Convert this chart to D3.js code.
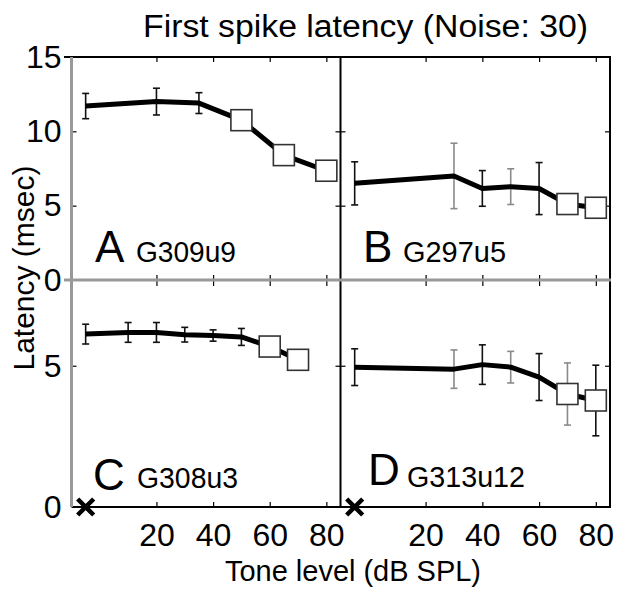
<!DOCTYPE html>
<html><head><meta charset="utf-8">
<script src="https://cdn.jsdelivr.net/npm/d3@7"></script>
<style>
body{margin:0;background:#fff}
svg{display:block}
text{font-family:"Liberation Sans",Arial,Helvetica,sans-serif;fill:#000}
</style>
</head><body>
<svg id="chart" width="628" height="593"></svg>
<script>
// ---------- data ----------
const titleText = "First spike latency (Noise: 30)";
const xLabelText = "Tone level (dB SPL)";
const yLabelText = "Latency (msec)";
const xTickValues = [20, 40, 60, 80];
const yTickValuesTop = [0, 5, 10, 15];
const yTickValuesBottom = [0, 5];
const xDomain = [-10, 85];
const yDomainTop = [0, 15];
const yDomainBottom = [0, 8];

// Panel A  (G309u9)
const levelsA  = [-5, 20, 35, 50, 65, 80];
const latencyA = [11.7, 12.0, 11.9, 10.75, 8.4, 7.35];
const errorA   = [0.85, 0.9, 0.7, 0, 0, 0];
const greyErrA = [0, 0, 0, 0, 0, 0];
const squareA  = [0, 0, 0, 1, 1, 1];

// Panel B  (G297u5)
const levelsB  = [-5, 30, 40, 50, 60, 70, 80];
const latencyB = [6.5, 7.0, 6.16, 6.28, 6.15, 5.11, 4.86];
const errorB   = [1.45, 2.2, 1.2, 1.2, 1.75, 0, 0];
const greyErrB = [0, 1, 0, 1, 0, 0, 0];
const squareB  = [0, 0, 0, 0, 0, 1, 1];

// Panel C  (G308u3)
const levelsC  = [-5, 10, 20, 30, 40, 50, 60, 70];
const latencyC = [6.12, 6.18, 6.18, 6.1, 6.07, 6.02, 5.68, 5.21];
const errorC   = [0.35, 0.35, 0.35, 0.26, 0.2, 0.3, 0, 0];
const greyErrC = [0, 0, 0, 0, 0, 0, 0, 0];
const squareC  = [0, 0, 0, 0, 0, 0, 1, 1];

// Panel D  (G313u12)
const levelsD  = [-5, 30, 40, 50, 60, 70, 80];
const latencyD = [4.95, 4.88, 5.04, 4.95, 4.6, 4.0, 3.77];
const errorD   = [0.65, 0.68, 0.7, 0.56, 0.83, 1.1, 1.25];
const greyErrD = [0, 1, 0, 1, 0, 1, 0];
const squareD  = [0, 0, 0, 0, 0, 1, 1];

// "no response" crosses (level, latency)
const crossLevels = [-5];

// ---------- layout ----------
const svg = d3.select("#chart");
const FONT = '"Liberation Sans",Arial,Helvetica,sans-serif';
const L = 71.5, MID = 340.5, R = 610, TOP = 57, MIDY = 280, BOT = 507;

const panels = [
  {letter:"A", unit:"G309u9", levels:levelsA, lat:latencyA, err:errorA, grey:greyErrA, sq:squareA,
   left:L, right:MID, top:TOP, bottom:MIDY, yDomain:yDomainTop, yTicks:yTickValuesTop, leftCol:true, bottomRow:false,
   letterPos:[95,262], unitPos:[136,262,100]},
  {letter:"B", unit:"G297u5", levels:levelsB, lat:latencyB, err:errorB, grey:greyErrB, sq:squareB,
   left:MID, right:R, top:TOP, bottom:MIDY, yDomain:yDomainTop, yTicks:yTickValuesTop, leftCol:false, bottomRow:false,
   letterPos:[363,262], unitPos:[403,262,103]},
  {letter:"C", unit:"G308u3", levels:levelsC, lat:latencyC, err:errorC, grey:greyErrC, sq:squareC,
   left:L, right:MID, top:MIDY+1, bottom:BOT, yDomain:yDomainBottom, yTicks:yTickValuesBottom, leftCol:true, bottomRow:true,
   letterPos:[93,490], unitPos:[137,488,101]},
  {letter:"D", unit:"G313u12", levels:levelsD, lat:latencyD, err:errorD, grey:greyErrD, sq:squareD,
   left:MID, right:R, top:MIDY+1, bottom:BOT, yDomain:yDomainBottom, yTicks:yTickValuesBottom, leftCol:false, bottomRow:true,
   letterPos:[368,485], unitPos:[407,487,118]}
];

function styleAxis(g, size) {
  g.select(".domain").remove();
  g.attr("font-family", FONT).attr("font-size", size);
  g.selectAll(".tick line").attr("stroke", "#000").attr("stroke-width", 1.2);
  g.selectAll(".tick text").attr("fill", "#000");
}

panels.forEach(p => {
  const x = d3.scaleLinear().domain(xDomain).range([p.left, p.right]);
  const y = d3.scaleLinear().domain(p.yDomain).range([p.bottom, p.top]);
  const g = svg.append("g");

  // inward ticks on all four sides
  g.append("g").attr("transform", `translate(0,${p.top})`)
    .call(d3.axisBottom(x).tickValues(xTickValues).tickSize(5).tickFormat(""))
    .call(s => styleAxis(s, 10));
  g.append("g").attr("transform", `translate(0,${p.bottom})`)
    .call(d3.axisTop(x).tickValues(xTickValues).tickSize(5).tickFormat(""))
    .call(s => styleAxis(s, 10));
  g.append("g").attr("transform", `translate(${p.left},0)`)
    .call(d3.axisRight(y).tickValues([5, 10].filter(v => v < p.yDomain[1])).tickSize(5).tickFormat(""))
    .call(s => styleAxis(s, 10));
  g.append("g").attr("transform", `translate(${p.right},0)`)
    .call(d3.axisLeft(y).tickValues([5, 10].filter(v => v < p.yDomain[1])).tickSize(5).tickFormat(""))
    .call(s => styleAxis(s, 10));

  // tick labels
  if (p.leftCol) {
    g.append("g").attr("transform", `translate(${p.left},0)`)
      .call(d3.axisLeft(y).tickValues(p.yTicks).tickSize(0).tickPadding(10).tickFormat(d3.format("d")))
      .call(s => styleAxis(s, 32));
  }
  if (p.bottomRow) {
    g.append("g").attr("transform", `translate(0,${p.bottom})`)
      .call(d3.axisBottom(x).tickValues(xTickValues).tickSize(0).tickPadding(16).tickFormat(d3.format("d")))
      .call(s => styleAxis(s, 32));
  }

  const pts = p.levels.map((v, i) => ({x: v, y: p.lat[i], e: p.err[i], grey: p.grey[i], sq: p.sq[i]}));

  // error bars
  const eb = g.append("g").selectAll("g").data(pts.filter(d => d.e > 0)).join("g")
    .attr("stroke", d => d.grey ? "#8a8a8a" : "#111").attr("stroke-width", 1.6);
  eb.append("line").attr("x1", d => x(d.x)).attr("x2", d => x(d.x))
    .attr("y1", d => y(d.y - d.e)).attr("y2", d => y(d.y + d.e));
  eb.append("line").attr("x1", d => x(d.x) - 3.5).attr("x2", d => x(d.x) + 3.5)
    .attr("y1", d => y(d.y - d.e)).attr("y2", d => y(d.y - d.e));
  eb.append("line").attr("x1", d => x(d.x) - 3.5).attr("x2", d => x(d.x) + 3.5)
    .attr("y1", d => y(d.y + d.e)).attr("y2", d => y(d.y + d.e));

  // main line
  g.append("path").datum(pts)
    .attr("d", d3.line().x(d => x(d.x)).y(d => y(d.y)))
    .attr("fill", "none").attr("stroke", "#000").attr("stroke-width", 5)
    .attr("stroke-linejoin", "round");

  // open squares
  const S = 21;
  g.append("g").selectAll("rect").data(pts.filter(d => d.sq)).join("rect")
    .attr("x", d => x(d.x) - S / 2).attr("y", d => y(d.y) - S / 2)
    .attr("width", S).attr("height", S)
    .attr("fill", "#fff").attr("stroke", "#333").attr("stroke-width", 1.6);

  // crosses on the zero line (bottom row)
  if (p.bottomRow) {
    g.append("g").selectAll("path").data(crossLevels).join("path")
      .attr("transform", d => `translate(${x(d)},${y(0)})`)
      .attr("d", "M-8,-8L8,8M-8,8L8,-8")
      .attr("stroke", "#000").attr("stroke-width", 4.5).attr("fill", "none");
  }

  // panel letter and unit name
  g.append("text").attr("x", p.letterPos[0]).attr("y", p.letterPos[1])
    .attr("font-size", 44).text(p.letter);
  g.append("text").attr("x", p.unitPos[0]).attr("y", p.unitPos[1])
    .attr("font-size", 29).attr("textLength", p.unitPos[2]).attr("lengthAdjust", "spacingAndGlyphs")
    .text(p.unit);
});

// ---------- frames ----------
const frame = svg.append("g").attr("fill", "none");
frame.append("line").attr("x1", 64).attr("x2", R + 1).attr("y1", TOP).attr("y2", TOP)
  .attr("stroke", "#000").attr("stroke-width", 1.8);
frame.append("line").attr("x1", R).attr("x2", R).attr("y1", TOP).attr("y2", BOT)
  .attr("stroke", "#000").attr("stroke-width", 2);
frame.append("line").attr("x1", L).attr("x2", R + 1).attr("y1", BOT).attr("y2", BOT)
  .attr("stroke", "#000").attr("stroke-width", 1.8);
frame.append("line").attr("x1", MID).attr("x2", MID).attr("y1", TOP).attr("y2", BOT)
  .attr("stroke", "#000").attr("stroke-width", 2);
frame.append("line").attr("x1", 64).attr("x2", R + 1).attr("y1", MIDY).attr("y2", MIDY)
  .attr("stroke", "#999").attr("stroke-width", 3);
frame.append("line").attr("x1", L).attr("x2", L).attr("y1", TOP).attr("y2", BOT)
  .attr("stroke", "#999").attr("stroke-width", 3);

// ---------- titles ----------
svg.append("text").attr("x", 143).attr("y", 37).attr("font-size", 31)
  .attr("textLength", 445).attr("lengthAdjust", "spacingAndGlyphs").text(titleText);
svg.append("text").attr("x", 225).attr("y", 581).attr("font-size", 29)
  .attr("textLength", 256).attr("lengthAdjust", "spacingAndGlyphs").text(xLabelText);
svg.append("text").attr("transform", "translate(34,268) rotate(-90)")
  .attr("text-anchor", "middle").attr("font-size", 30)
  .attr("textLength", 205).attr("lengthAdjust", "spacingAndGlyphs").text(yLabelText);
</script>
</body></html>
